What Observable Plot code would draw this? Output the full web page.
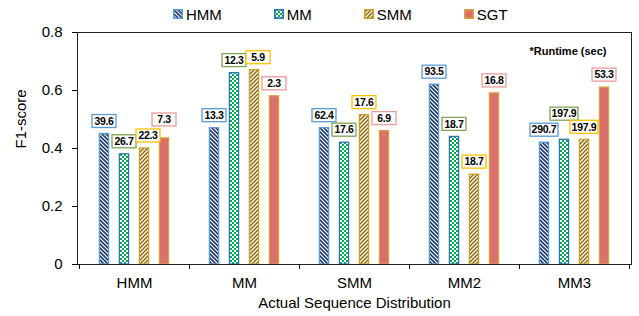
<!DOCTYPE html>
<html><head><meta charset="utf-8">
<script src="https://cdn.jsdelivr.net/npm/d3@7"></script>
<script src="https://cdn.jsdelivr.net/npm/@observablehq/plot@0.6"></script>
<style>
body{margin:0;background:#fff;font-family:"Liberation Sans",Arial,sans-serif;}
#legend{height:26px;display:flex;align-items:center;padding-left:173px;padding-top:2px;box-sizing:border-box;font-size:15px;color:#000;line-height:1}
.item{display:flex;align-items:center;margin-right:52px}
.item svg{margin-right:3px;display:block}
</style></head><body>
<svg width="0" height="0" style="position:absolute">
<defs>
<pattern id="p-hmm" patternUnits="userSpaceOnUse" width="4" height="4">
<rect width="4" height="4" fill="#ffffff"/>
<path d="M-1,-1L5,5M-1,3L1,5M3,-1L5,1" stroke="#1f3a70" stroke-width="1.6"/>
</pattern>
<pattern id="p-mm" patternUnits="userSpaceOnUse" width="4" height="4">
<rect width="4" height="4" fill="#00a84f"/>
<rect width="2" height="2" fill="#ffffff"/>
<rect x="2" y="2" width="2" height="2" fill="#ffffff"/>
</pattern>
<pattern id="p-smm" patternUnits="userSpaceOnUse" width="4" height="4">
<rect width="4" height="4" fill="#fffaf0"/>
<path d="M-1,5L5,-1M-1,1L1,-1M3,5L5,3" stroke="#8f6c12" stroke-width="1.5"/>
</pattern>
</defs></svg>
<div id="legend"></div>
<div id="chart"></div>
<script>
// ---- data ----
const groups = ["HMM", "MM", "SMM", "MM2", "MM3"];
const series = ["HMM", "MM", "SMM", "SGT"];
const f1HMM = [0.45, 0.47, 0.47, 0.62, 0.42];
const f1MM  = [0.38, 0.66, 0.42, 0.44, 0.43];
const f1SMM = [0.40, 0.67, 0.515, 0.31, 0.43];
const f1SGT = [0.435, 0.58, 0.46, 0.59, 0.61];
const rtHMM = ["39.6", "13.3", "62.4", "93.5", "290.7"];
const rtMM  = ["26.7", "12.3", "17.6", "18.7", "197.9"];
const rtSMM = ["22.3", "5.9", "17.6", "18.7", "197.9"];
const rtSGT = ["7.3", "2.3", "6.9", "16.8", "53.3"];
const yTicks = [0, 0.2, 0.4, 0.6, 0.8];
const yTickLabels = ["0", "0.2", "0.4", "0.6", "0.8"];
const xTitle = "Actual Sequence Distribution";
const yTitle = "F1-score";
const note = "*Runtime (sec)";

// ---- styles ----
const fills = ["url(#p-hmm)", "url(#p-mm)", "url(#p-smm)", "#d9706c"];
const strokes = ["#5b9bd5", "#2e75b6", "#c9a02a", "#d9a23c"];
const boxStrokes = ["#5b9bd5", "#7ea35a", "#ffc000", "#ee9a9a"];

const f1 = [f1HMM, f1MM, f1SMM, f1SGT];
const rt = [rtHMM, rtMM, rtSMM, rtSGT];
const rows = series.flatMap((s, si) => groups.map((g, gi) => ({series: s, si, group: g, gi, f1: f1[si][gi], rt: rt[si][gi]})));

// legend
const legend = d3.select("#legend");
series.forEach((s, si) => {
  const it = legend.append("div").attr("class", "item");
  const sw = it.append("svg").attr("width", 10).attr("height", 10);
  sw.append("rect").attr("x", 0.75).attr("y", 0.75).attr("width", 8.5).attr("height", 8.5)
    .attr("fill", fills[si]).attr("stroke", strokes[si]).attr("stroke-width", 1.5);
  it.append("span").text(s);
});

const W = 639, H = 290, mL = 77, mR = 8, mT = 6, mB = 52;
const slot = 20, barW = 10;
const bwC = (W - mL - mR) / groups.length;
const lblSize = 10.5, lblSpacing = -0.3;

const ctx = document.createElement("canvas").getContext("2d");
ctx.font = `bold ${lblSize}px 'Liberation Sans', Arial, sans-serif`;

function labels(index, scales) {
  const g = d3.create("svg:g");
  const bw = scales.x.bandwidth ? scales.x.bandwidth() : bwC;
  const placed = [];
  const bh = 13;
  groups.forEach((grp, gi) => {
    series.forEach((s, si) => {
      const r = rows.find(d => d.gi === gi && d.si === si);
      const tw = ctx.measureText(r.rt).width + lblSpacing * r.rt.length;
      const w = Math.max(24, Math.round(tw + 3));
      let cx = scales.x(grp) + bw / 2 + (si - 1.5) * slot;
      let cy = scales.y(r.f1) - 12.5;
      const hits = (cx, cy) => placed.filter(p => Math.abs(p.cx - cx) < (p.w + w) / 2 && Math.abs(p.cy - cy) < bh);
      let h = hits(cx, cy);
      if (h.length) {
        const need = Math.max(...h.map(p => p.cx + (p.w + w) / 2 - cx));
        if (need <= 6 && hits(cx + need, cy).length === 0) cx += need;
        else { cy = Math.min(...h.map(p => p.cy)) - 16; }
      }
      placed.push({cx, cy, w});
      g.append("rect").attr("x", cx - w / 2).attr("y", cy - bh / 2).attr("width", w).attr("height", bh)
        .attr("fill", "#fff").attr("stroke", boxStrokes[si]).attr("stroke-width", 1.3);
      g.append("text").attr("x", cx).attr("y", cy).attr("dy", "0.36em").attr("text-anchor", "middle")
        .attr("font-weight", "bold").attr("font-size", lblSize).attr("letter-spacing", lblSpacing)
        .attr("fill", "#000").text(r.rt);
    });
  });
  return g.node();
}

function separators(index, scales) {
  const g = d3.create("svg:g").attr("stroke", "#000");
  const bw = scales.x.bandwidth ? scales.x.bandwidth() : bwC;
  const x0 = scales.x(groups[0]);
  const y0 = scales.y(0);
  for (let i = 0; i <= groups.length; i++) {
    const x = Math.round(x0 + i * bw) + 0.5;
    g.append("line").attr("x1", x).attr("x2", x).attr("y1", y0).attr("y2", y0 + 5);
  }
  return g.node();
}

const plot = Plot.plot({
  width: W, height: H,
  marginLeft: mL, marginRight: mR, marginTop: mT, marginBottom: mB,
  style: {fontFamily: "'Liberation Sans', Arial, sans-serif", fontSize: "15px", color: "#000", background: "#fff", overflow: "visible"},
  x: {domain: groups, padding: 0, tickSize: 0, tickPadding: 13, label: null},
  y: {domain: [0, 0.8], ticks: yTicks, tickFormat: d => yTickLabels[yTicks.indexOf(d)], tickSize: 5, tickPadding: 10, label: null},
  marks: [
    ...series.map((s, si) => Plot.barY(rows.filter(r => r.si === si), {
      x: "group", y: "f1", fill: fills[si], stroke: strokes[si], strokeWidth: 1.3,
      dx: (si - 1.5) * slot, insetLeft: (bwC - barW) / 2, insetRight: (bwC - barW) / 2
    })),
    Plot.frame({stroke: "#222", strokeWidth: 1}),
    separators,
    labels,
    Plot.text([note], {text: d => d, frameAnchor: "top-right", dx: -25, dy: 15, textAnchor: "end", fontWeight: "bold", fontSize: 11}),
    Plot.text([xTitle], {text: d => d, frameAnchor: "bottom", dy: 43, fontSize: 15}),
    Plot.text([yTitle], {text: d => d, frameAnchor: "left", dx: -56, rotate: -90, fontSize: 15})
  ]
});
document.getElementById("chart").appendChild(plot);
</script>
</body></html>
